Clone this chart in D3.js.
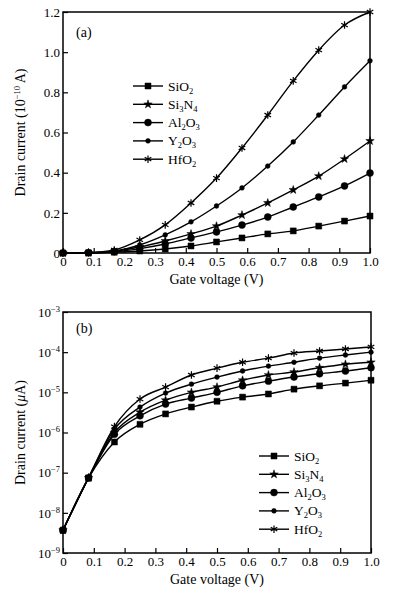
<!DOCTYPE html>
<html>
<head>
<meta charset="utf-8">
<script src="https://cdn.jsdelivr.net/npm/d3@7"></script>
<style>
    body { margin: 0; background: #fff; }
    svg { font-family: "Liberation Serif", "Times New Roman", "DejaVu Serif", serif; }
    .axis text { font-size: 13px; fill: #000; font-family: "Liberation Serif", "Times New Roman", serif; }
    .axis line { stroke: #000; stroke-width: 1.2; }
    .axis path { display: none; }
    .label { font-size: 14px; fill: #000; font-family: "Liberation Serif", "Times New Roman", serif; }
    .legend-text { font-size: 13.5px; }
</style>
</head>
<body>
<svg id="chart" width="395" height="601"></svg>
<script>
// Gate voltage (V) of the sampled points
var gateVoltage = [0, 0.083, 0.167, 0.25, 0.333, 0.417, 0.5, 0.583, 0.667, 0.75, 0.833, 0.917, 1.0];

// Materials in legend order
var materials = ["SiO2", "Si3N4", "Al2O3", "Y2O3", "HfO2"];

// (a) drain current, units of 1e-10 A
var linSiO2  = [0, 0.001, 0.004, 0.010, 0.020, 0.035, 0.055, 0.075, 0.095, 0.110, 0.134, 0.159, 0.184];
var linSi3N4 = [0, 0.001, 0.008, 0.030, 0.060, 0.095, 0.134, 0.189, 0.249, 0.314, 0.383, 0.468, 0.558];
var linAl2O3 = [0, 0.001, 0.006, 0.022, 0.045, 0.075, 0.105, 0.139, 0.179, 0.229, 0.279, 0.334, 0.398];
var linY2O3  = [0, 0.001, 0.010, 0.040, 0.090, 0.155, 0.234, 0.324, 0.433, 0.553, 0.687, 0.827, 0.957];
var linHfO2  = [0, 0.002, 0.015, 0.065, 0.140, 0.249, 0.373, 0.523, 0.687, 0.857, 1.010, 1.135, 1.200];

// (b) drain current, uA (log scale)
var logSiO2  = [3.7e-9, 7.4e-8, 5.8e-7, 1.6e-6, 2.9e-6, 4.3e-6, 6.0e-6, 7.6e-6, 9.1e-6, 1.2e-5, 1.45e-5, 1.7e-5, 2.0e-5];
var logSi3N4 = [3.7e-9, 7.4e-8, 1.0e-6, 3.2e-6, 6.4e-6, 1.0e-5, 1.35e-5, 2.0e-5, 2.7e-5, 3.2e-5, 4.1e-5, 5.0e-5, 5.6e-5];
var logAl2O3 = [3.7e-9, 7.4e-8, 9.0e-7, 2.6e-6, 5.1e-6, 7.2e-6, 1.0e-5, 1.45e-5, 1.9e-5, 2.4e-5, 2.9e-5, 3.4e-5, 4.1e-5];
var logY2O3  = [3.7e-9, 7.4e-8, 1.2e-6, 4.3e-6, 9.6e-6, 1.6e-5, 2.4e-5, 3.4e-5, 4.5e-5, 5.6e-5, 7.1e-5, 8.5e-5, 1.0e-4];
var logHfO2  = [3.7e-9, 7.6e-8, 1.4e-6, 6.8e-6, 1.35e-5, 2.7e-5, 4.0e-5, 5.6e-5, 7.1e-5, 9.5e-5, 1.07e-4, 1.2e-4, 1.35e-4];

// Tick values
var xTicks = [0, 0.1, 0.2, 0.3, 0.4, 0.5, 0.6, 0.7, 0.8, 0.9, 1.0];
var linTicks = [0, 0.2, 0.4, 0.6, 0.8, 1.0, 1.2];
var logTicks = [-9, -8, -7, -6, -5, -4, -3];

var svg = d3.select("#chart");

// Legend label pieces: [text, isSubscript]
var legendParts = {
    "SiO2":  [["SiO", false], ["2", true]],
    "Si3N4": [["Si", false], ["3", true], ["N", false], ["4", true]],
    "Al2O3": [["Al", false], ["2", true], ["O", false], ["3", true]],
    "Y2O3":  [["Y", false], ["2", true], ["O", false], ["3", true]],
    "HfO2":  [["HfO", false], ["2", true]]
};

// Marker shapes per material
var markerDefs = {
    "SiO2":  {type: d3.symbolSquare, size: 36, stroke: false},
    "Si3N4": {type: d3.symbolStar, size: 22, stroke: false},
    "Al2O3": {type: d3.symbolCircle, size: 38, stroke: false},
    "Y2O3":  {type: d3.symbolCircle, size: 18, stroke: false},
    "HfO2":  {type: d3.symbolAsterisk, size: 40, stroke: true}
};

function drawMarker(g, name, x, y) {
    var m = markerDefs[name];
    g.append("path")
        .attr("d", d3.symbol().type(m.type).size(m.size)())
        .attr("transform", `translate(${x}, ${y})`)
        .attr("fill", m.stroke ? "none" : "#000")
        .attr("stroke", "#000")
        .attr("stroke-width", m.stroke ? 1.2 : 0.5);
}

function addLegend(g, x, y, step) {
    materials.forEach(function(name, i) {
        var yy = y + i * step;
        g.append("line")
            .attr("x1", x).attr("x2", x + 30)
            .attr("y1", yy).attr("y2", yy)
            .attr("stroke", "#000").attr("stroke-width", 1.4);
        drawMarker(g, name, x + 15, yy);
        var t = g.append("text")
            .attr("class", "label legend-text")
            .attr("x", x + 35)
            .attr("y", yy + 4.5);
        legendParts[name].forEach(function(p) {
            var s = t.append("tspan").text(p[0]);
            if (p[1]) {
                s.attr("font-size", "8.5px").attr("dy", 3);
            } else if (t.selectAll("tspan").size() > 1) {
                s.attr("dy", -3);
            }
        });
    });
}

function panel(opts) {
    var box = opts.box;
    var g = svg.append("g");

    var xScale = d3.scaleLinear().domain([0, 1]).range([box.left, box.right]);
    var yScale = opts.yScale;

    // x axis, ticks pointing inward
    g.append("g")
        .attr("class", "axis")
        .attr("transform", `translate(0, ${box.bottom})`)
        .call(d3.axisBottom(xScale)
            .tickValues(xTicks)
            .tickSize(-5)
            .tickPadding(4)
            .tickFormat(function(d) { return d === 0 ? "0" : d3.format(".1f")(d); }));

    // y axis, ticks pointing inward
    var yAxis = g.append("g")
        .attr("class", "axis")
        .attr("transform", `translate(${box.left}, 0)`)
        .call(d3.axisLeft(yScale)
            .tickValues(opts.yTicks)
            .tickSize(-5)
            .tickPadding(3)
            .tickFormat(opts.yFormat));
    if (opts.yPower) {
        yAxis.selectAll("text").each(function(d) {
            var t = d3.select(this);
            var power = Math.round(Math.log10(d));
            t.text("");
            t.append("tspan").text("10");
            t.append("tspan").text("\u2212" + (-power)).attr("font-size", "8.5px").attr("dy", -5);
        });
    }

    // Frame
    g.append("rect")
        .attr("x", box.left).attr("y", box.top)
        .attr("width", box.right - box.left)
        .attr("height", box.bottom - box.top)
        .attr("fill", "none")
        .attr("stroke", "#000")
        .attr("stroke-width", 1.5);

    // Series lines and markers
    var line = d3.line()
        .x(function(d) { return xScale(d[0]); })
        .y(function(d) { return yScale(d[1]); })
        .curve(d3.curveMonotoneX);

    opts.series.forEach(function(values, i) {
        var name = materials[i];
        var pts = gateVoltage.map(function(v, j) { return [v, values[j]]; });
        g.append("path")
            .datum(pts)
            .attr("d", line)
            .attr("fill", "none")
            .attr("stroke", "#000")
            .attr("stroke-width", 1.4);
        pts.forEach(function(p) {
            drawMarker(g, name, xScale(p[0]), yScale(p[1]));
        });
    });

    // Panel tag
    g.append("text")
        .attr("class", "label")
        .attr("x", box.left + 13)
        .attr("y", box.top + opts.tagDy)
        .text(opts.tag);

    // x label
    g.append("text")
        .attr("class", "label")
        .attr("x", (box.left + box.right) / 2)
        .attr("y", box.bottom + 31)
        .attr("text-anchor", "middle")
        .text("Gate voltage (V)");

    // y label
    var yl = g.append("text")
        .attr("class", "label")
        .attr("transform", `translate(${box.left - 38}, ${(box.top + box.bottom) / 2}) rotate(-90)`)
        .attr("text-anchor", "middle");
    opts.yLabel(yl);

    addLegend(g, opts.legend.x, opts.legend.y, opts.legend.step);
}

// (a) linear panel
panel({
    box: {left: 63, right: 370, top: 12, bottom: 253},
    yScale: d3.scaleLinear().domain([0, 1.2]).range([253, 12]),
    yTicks: linTicks,
    yFormat: function(d) { return d === 0 ? "0" : d3.format(".1f")(d); },
    yPower: false,
    series: [linSiO2, linSi3N4, linAl2O3, linY2O3, linHfO2],
    tag: "(a)",
    tagDy: 25,
    legend: {x: 133, y: 86, step: 18.3},
    yLabel: function(t) {
        t.append("tspan").text("Drain current (10");
        t.append("tspan").text("\u221210").attr("font-size", "8.5px").attr("dy", -5);
        t.append("tspan").text(" A)").attr("dy", 5);
    }
});

// (b) log panel
panel({
    box: {left: 63, right: 371, top: 312, bottom: 553},
    yScale: d3.scaleLog().domain([1e-9, 1e-3]).range([553, 312]),
    yTicks: logTicks.map(function(p) { return Math.pow(10, p); }),
    yFormat: function(d) { return d; },
    yPower: true,
    series: [logSiO2, logSi3N4, logAl2O3, logY2O3, logHfO2],
    tag: "(b)",
    tagDy: 21,
    legend: {x: 259, y: 456, step: 18.3},
    yLabel: function(t) {
        t.append("tspan").text("Drain current (");
        t.append("tspan").text("\u03bc").attr("font-style", "italic");
        t.append("tspan").text("A)");
    }
});
</script>
</body>
</html>
